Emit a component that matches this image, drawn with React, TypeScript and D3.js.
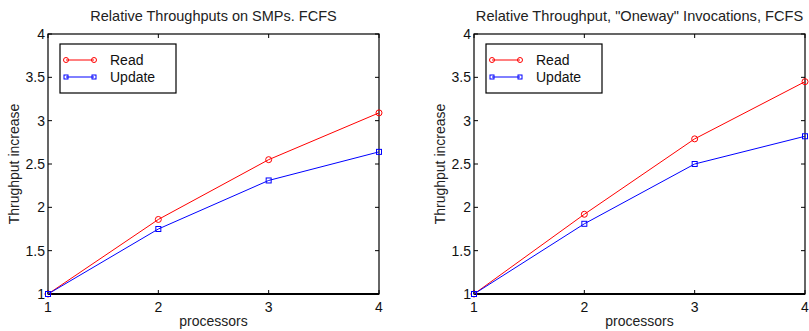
import React from 'react';
import * as d3 from 'd3';

const processors = [1, 2, 3, 4];
const yTicks = [1, 1.5, 2, 2.5, 3, 3.5, 4];

const smpRead = [1, 1.86, 2.55, 3.09];
const smpUpdate = [1, 1.75, 2.31, 2.64];
const onewayRead = [1, 1.92, 2.79, 3.45];
const onewayUpdate = [1, 1.81, 2.5, 2.82];

const panels = [
  { title: 'Relative Throughputs on SMPs. FCFS', titleSize: 14.5, left: 48, read: smpRead, update: smpUpdate },
  { title: 'Relative Throughput, "Oneway" Invocations, FCFS', titleSize: 14.6, left: 474, read: onewayRead, update: onewayUpdate },
];

const W = 809;
const H = 331;
const plotW = 331;
const top = 34;
const bottom = 294;
const FONT = '"Liberation Sans", Arial, Helvetica, sans-serif';

const Panel: React.FC<{ title: string; titleSize: number; left: number; read: number[]; update: number[] }> = ({ title, titleSize, left, read, update }) => {
  const x = d3.scaleLinear().domain([1, 4]).range([left, left + plotW]);
  const y = d3.scaleLinear().domain([1, 4]).range([bottom, top]);
  const line = d3.line<number>().x((_, i) => x(processors[i])).y(d => y(d));
  const tick = 4;

  return (
    <g fontFamily={FONT}>
      <text x={x(2.5)} y={21} textAnchor="middle" fontSize={titleSize} fill="#222">{title}</text>
      {/* ticks */}
      {yTicks.map(t => (
        <g key={'y' + t}>
          <line x1={x(1)} x2={x(1) + tick} y1={y(t)} y2={y(t)} stroke="#000" />
          <line x1={x(4)} x2={x(4) - tick} y1={y(t)} y2={y(t)} stroke="#000" />
          <text x={x(1) - 3} y={y(t) + 5} textAnchor="end" fontSize={14} fill="#111">{t}</text>
        </g>
      ))}
      {processors.map(p => (
        <g key={'x' + p}>
          <line x1={x(p)} x2={x(p)} y1={y(1)} y2={y(1) - tick} stroke="#000" />
          <line x1={x(p)} x2={x(p)} y1={y(4)} y2={y(4) + tick} stroke="#000" />
          <text x={x(p)} y={y(1) + 18} textAnchor="middle" fontSize={14} fill="#111">{p}</text>
        </g>
      ))}
      <rect x={x(1)} y={y(4)} width={x(4) - x(1)} height={y(1) - y(4)} fill="none" stroke="#000" strokeWidth={1.2} />
      <line x1={x(1)} x2={x(4)} y1={y(1)} y2={y(1)} stroke="#000" strokeWidth={2} />
      <text x={x(2.5)} y={326} textAnchor="middle" fontSize={14} fill="#222">processors</text>
      <text transform={`translate(${left - 29},${(top + bottom) / 2}) rotate(-90)`} textAnchor="middle" fontSize={14} fill="#222">Thrughput increase</text>

      {/* series */}
      <path d={line(read) || ''} fill="none" stroke="#ff0000" strokeWidth={1} />
      <path d={line(update) || ''} fill="none" stroke="#0000ff" strokeWidth={1} />
      {read.map((v, i) => (
        <circle key={'r' + i} cx={x(processors[i])} cy={y(v)} r={3} fill="none" stroke="#ff0000" />
      ))}
      {update.map((v, i) => (
        <rect key={'u' + i} x={x(processors[i]) - 2.5} y={y(v) - 2.5} width={5} height={5} fill="none" stroke="#0000ff" />
      ))}

      {/* legend */}
      <g transform={`translate(${left + 12},${top + 10})`}>
        <rect x={0} y={0} width={116} height={49} fill="#fff" stroke="#000" strokeWidth={1.2} />
        <line x1={6} x2={34} y1={16} y2={16} stroke="#ff0000" />
        <circle cx={6} cy={16} r={2.5} fill="none" stroke="#ff0000" />
        <circle cx={34} cy={16} r={2.5} fill="none" stroke="#ff0000" />
        <text x={50} y={21} fontSize={14} fill="#111">Read</text>
        <line x1={6} x2={34} y1={33} y2={33} stroke="#0000ff" />
        <rect x={4} y={31} width={4} height={4} fill="none" stroke="#0000ff" />
        <rect x={32} y={31} width={4} height={4} fill="none" stroke="#0000ff" />
        <text x={50} y={38} fontSize={14} fill="#111">Update</text>
      </g>
    </g>
  );
};

export default function App() {
  return (
    <div style={{ position: 'fixed', left: 0, top: 0 }}>
      <svg width={W} height={H} style={{ display: 'block', background: '#fff' }}>
        {panels.map(p => (
          <Panel key={p.title} {...p} />
        ))}
      </svg>
    </div>
  );
}
